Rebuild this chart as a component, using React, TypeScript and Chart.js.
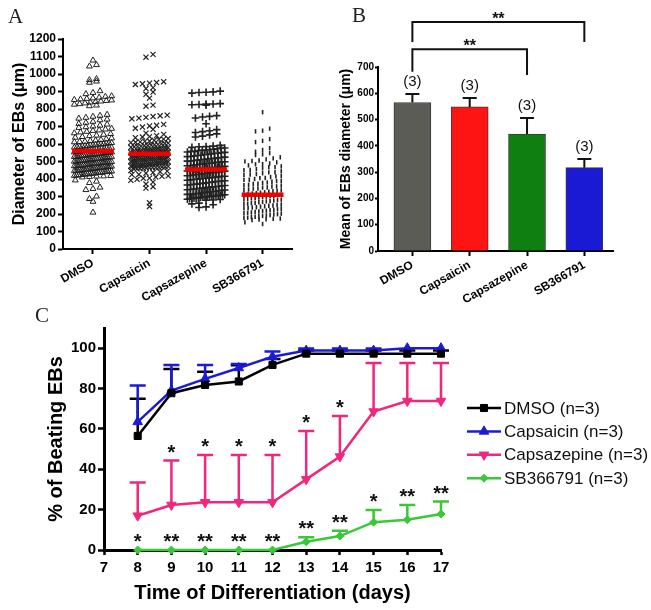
import { useEffect, useRef } from 'react';
import { Chart, registerables } from 'chart.js';
import { drawPoint } from 'chart.js/helpers';

Chart.register(...registerables);

const FONT = "'Liberation Sans', Arial, Helvetica, sans-serif";

// ---------- Panel A : individual EB diameters ----------
const groups = ['DMSO', 'Capsaicin', 'Capsazepine', 'SB366791'];
const diameterTicks = [0, 100, 200, 300, 400, 500, 600, 700, 800, 900, 1000, 1100, 1200];

const dmsoDiameters = [
  1078, 1052, 1044, 972, 966, 958, 951, 903, 893, 886,
  874, 871, 866, 862, 859, 856, 853, 850, 847, 844, 841, 838, 833, 829, 826, 821, 817,
  768, 762, 757, 751, 746, 741, 737,
  728, 722, 716, 712, 706, 701, 697, 693, 688, 684, 679, 676, 671, 667, 662, 658, 654, 649, 646, 641, 637, 633, 628,
  624, 621, 618, 614, 611, 607, 604, 601, 598, 596, 593, 590, 587, 584, 581, 578, 576, 573, 570, 567, 564, 562,
  559, 556, 553, 551, 548, 545, 542, 539, 537, 534, 531, 528, 525, 523, 520, 517, 514, 511, 508, 506, 503, 500,
  497, 494, 491, 489, 486, 483, 480, 477, 474, 471, 469, 466, 463, 460, 457, 454, 451, 448, 446, 443, 440, 437,
  434, 431, 428, 425, 422, 419, 416, 413, 410,
  415, 418, 421, 424, 427, 429, 433, 436, 439, 442, 444, 447, 450, 452, 455, 458, 461, 464, 467, 470, 472, 475,
  478, 481, 484, 487, 490, 493, 496, 498, 501, 504, 507, 510, 513, 516, 519, 522, 526, 529, 532, 535, 538, 541,
  544, 547, 550, 554, 557, 561, 565, 569, 574, 579, 583, 589, 594, 600, 606, 613, 452, 463, 476, 488, 495, 505,
  515, 527, 540, 552,
  393, 386, 378, 352, 344, 338, 301, 287, 271, 209,
];
const capsaicinDiameters = [
  1112, 1096, 956, 951, 948, 944, 940, 922, 917, 897, 884, 862, 822, 816,
  765, 761, 757, 752, 748, 744,
  712, 707, 703, 697, 690, 684, 662, 655, 648, 642, 636, 631, 627,
  621, 617, 612, 608, 605, 601, 598, 594, 591, 588, 585, 581, 578, 575, 572, 569, 566, 563, 560, 557, 554, 551,
  548, 545, 542, 539, 536, 533, 530, 527, 524, 521, 518, 515, 512, 509, 506, 503, 500, 497, 494, 491, 488, 485,
  482, 479, 476, 473, 470, 467, 464, 461, 458,
  457, 460, 463, 466, 469, 472, 474, 477, 480, 483, 486, 489, 492, 495, 498, 501, 504, 507, 510, 513, 516, 519,
  522, 525, 528, 531, 534, 537, 540, 543, 547, 550, 553, 556, 559, 562, 566, 570, 574, 579, 584, 590, 596, 603,
  610, 465, 478, 493, 508, 520, 535, 549, 565, 405, 415, 425, 437, 445, 615, 628, 640,
  448, 441, 433, 426, 418, 411, 404, 398, 392, 382, 371, 356, 348, 264, 243,
];
const capsazepineDiameters = [
  902, 898, 894, 891, 896, 831, 828, 824, 822, 826, 829, 762, 758, 754, 749, 716,
  682, 676, 671, 666, 658, 652, 645, 640,
  592, 588, 585, 581, 577, 573, 569, 566, 562, 558, 554, 551, 547, 543, 540, 536, 532, 528, 525, 521, 517, 514,
  510, 506, 502, 499, 495, 491, 487, 484, 480, 476, 472, 469, 465, 461, 457, 454, 450, 446, 442, 438, 435, 431,
  427, 423, 420, 416, 412, 408, 404, 401, 397, 393, 389, 386, 382, 378, 374, 371, 367, 363, 359, 355, 352, 348,
  344, 340, 337, 333, 329, 325, 322, 318, 314, 310, 306, 303, 299, 295, 291, 288, 284, 280,
  279, 283, 287, 292, 296, 300, 302, 305, 309, 313, 317, 321, 326, 330, 335, 339, 343, 347, 351, 356, 361, 366,
  370, 375, 380, 385, 390, 395, 399, 403, 407, 411, 415, 419, 424, 429, 433, 437, 441, 445, 449, 453, 458, 462,
  467, 471, 476, 480, 485, 489, 494, 498, 503, 508, 513, 518, 523, 529, 534, 540, 546, 552, 558, 564, 570, 577,
  584, 290, 298, 306, 312, 455, 460,
  262, 258, 253, 241, 237,
];
const sbDiameters = [
  782, 688, 676, 672, 628, 618, 611, 576, 566, 556, 548, 541, 537,
  524, 518, 512, 506, 501, 495, 489, 484, 478, 472, 467, 461, 456, 450, 444, 439, 433, 428, 422, 417, 411, 406,
  400, 395, 389, 384, 378, 373, 367, 362, 357, 351, 346, 340, 335, 330, 324, 319, 314, 309, 304, 299, 294, 289,
  284, 279, 274, 269, 264, 259, 254, 249, 244, 239, 234, 229, 224, 219, 214, 209, 204, 199, 194, 189, 184, 179,
  174, 170, 166,
  168, 172, 177, 182, 187, 192, 197, 202, 207, 212, 217, 222, 227, 232, 237, 242, 247, 252, 257, 262, 267, 272,
  277, 282, 287, 292, 297, 302, 307, 312, 317, 322, 328, 333, 339, 345, 352, 358, 365, 372, 380, 388, 396, 405,
  415, 426, 438, 452, 468, 485, 503,
  152, 143,
];
const groupMeans = [560, 545, 455, 310];

// ---------- Panel B : mean diameter ----------
const barMeans = [565, 548, 445, 317];
const barSem = [32, 34, 61, 33];
const barN = [3, 3, 3, 3];
const barColors = ['#5c5c56', '#ff1414', '#0f7f12', '#1a1ad4'];
const meanTicks = [0, 100, 200, 300, 400, 500, 600, 700];

// ---------- Panel C : % beating EBs ----------
const days = [8, 9, 10, 11, 12, 13, 14, 15, 16, 17];
const beatingTicks = [0, 20, 40, 60, 80, 100];
const seriesNames = ['DMSO (n=3)', 'Capsaicin (n=3)', 'Capsazepine (n=3)', 'SB366791 (n=3)'];
const dmsoBeating = [56.5, 77.7, 81.8, 83.5, 91.7, 97.3, 97.3, 97.3, 97.3, 97.3];
const dmsoBeatingSem = [18.5, 12, 6.5, 8, 3, 1.5, 1.5, 1.5, 1.5, 1.5];
const capsaicinBeating = [63.5, 79, 84.8, 90.2, 95.8, 98.8, 98.8, 98.8, 100, 100];
const capsaicinBeatingSem = [18, 12.7, 6.9, 2, 2.5, 1, 1, 1, 0, 0];
const capsazepineBeating = [17, 22.3, 23.6, 23.6, 23.6, 35, 46.3, 68.6, 73.8, 73.8];
const capsazepineBeatingSem = [16.4, 22, 23.5, 23.5, 23.5, 24, 20.1, 24, 18.8, 18.8];
const sbBeating = [0, 0, 0, 0, 0, 4.1, 6.9, 13.8, 15, 17.8];
const sbBeatingSem = [0, 0, 0, 0, 0, 2.2, 2.7, 6, 7.3, 6.2];
const sigCapsazepine = ['', '*', '*', '*', '*', '*', '*', '', '', ''];
const sigSB = ['*', '**', '**', '**', '**', '**', '**', '*', '**', '**'];

// ---------- helpers ----------
function swarm(values: number[], idx: number) {
  const bins = new Map<number, number[]>();
  [...values].sort((a, b) => a - b).forEach((v) => {
    const k = Math.round(v / 27);
    if (!bins.has(k)) bins.set(k, []);
    bins.get(k)!.push(v);
  });
  const pts: { x: number; y: number }[] = [];
  bins.forEach((arr) => {
    const n = arr.length;
    const d = n > 1 ? Math.min(0.125, 0.66 / (n - 1)) : 0;
    arr.forEach((v, k) => pts.push({ x: idx + (k - (n - 1) / 2) * d, y: v }));
  });
  return pts;
}

const axisGrid = (w: number, len: number) => ({
  display: true,
  drawOnChartArea: false,
  drawTicks: true,
  tickLength: len,
  tickColor: '#000',
  tickWidth: w,
});
const axisBorder = (w: number) => ({ display: true, color: '#000', width: w });
const bold = (size: number) => ({ family: FONT, size, weight: 'bold' as const });

function starText(ctx: CanvasRenderingContext2D, text: string, x: number, cy: number, size: number) {
  ctx.font = `bold ${size}px ${FONT}`;
  ctx.textAlign = 'center';
  ctx.textBaseline = 'alphabetic';
  ctx.fillStyle = '#111';
  ctx.fillText(text, x, cy + size * 0.56);
}

// ---------- Panel B extras ----------
const barExtras = {
  id: 'barExtras',
  afterDatasetsDraw(chart: any) {
    const ctx = chart.ctx as CanvasRenderingContext2D;
    const xs = chart.scales.x;
    const ys = chart.scales.y;
    ctx.save();
    ctx.strokeStyle = '#111';
    ctx.lineWidth = 2;
    barMeans.forEach((m, i) => {
      const x = xs.getPixelForValue(i);
      const y0 = ys.getPixelForValue(m);
      const y1 = ys.getPixelForValue(m + barSem[i]);
      ctx.beginPath();
      ctx.moveTo(x, y0);
      ctx.lineTo(x, y1);
      ctx.moveTo(x - 7, y1);
      ctx.lineTo(x + 7, y1);
      ctx.stroke();
      ctx.fillStyle = '#111';
      ctx.font = `15px ${FONT}`;
      ctx.textAlign = 'center';
      ctx.textBaseline = 'middle';
      ctx.fillText(`(${barN[i]})`, x, y1 - 12);
    });
    // significance brackets
    const brackets = [
      { a: 0, b: 3, top: 871, endA: 795, endB: 795 },
      { a: 0, b: 2, top: 768, endA: 682, endB: 670 },
    ];
    brackets.forEach((br) => {
      const xa = xs.getPixelForValue(br.a);
      const xb = xs.getPixelForValue(br.b);
      const yt = ys.getPixelForValue(br.top);
      ctx.beginPath();
      ctx.moveTo(xa, ys.getPixelForValue(br.endA));
      ctx.lineTo(xa, yt);
      ctx.lineTo(xb, yt);
      ctx.lineTo(xb, ys.getPixelForValue(br.endB));
      ctx.stroke();
      starText(ctx, '**', (xa + xb) / 2, yt - 7, 16);
    });
    ctx.restore();
  },
};

// ---------- Panel C extras ----------
const beatingSeries = [
  { name: seriesNames[0], values: dmsoBeating, sem: dmsoBeatingSem, color: '#000000', style: 'rect', rot: 0, r: 5 },
  { name: seriesNames[1], values: capsaicinBeating, sem: capsaicinBeatingSem, color: '#1b1bd6', style: 'triangle', rot: 0, r: 5.5 },
  { name: seriesNames[2], values: capsazepineBeating, sem: capsazepineBeatingSem, color: '#f0277c', style: 'triangle', rot: 180, r: 5.5 },
  { name: seriesNames[3], values: sbBeating, sem: sbBeatingSem, color: '#38c838', style: 'rectRot', rot: 0, r: 4 },
];

const beatingExtras = {
  id: 'beatingExtras',
  beforeDatasetsDraw(chart: any) {
    const ctx = chart.ctx as CanvasRenderingContext2D;
    const xs = chart.scales.x;
    const ys = chart.scales.y;
    ctx.save();
    ctx.lineWidth = 2.5;
    beatingSeries.forEach((s) => {
      ctx.strokeStyle = s.color;
      s.values.forEach((v, j) => {
        if (!s.sem[j]) return;
        const x = xs.getPixelForValue(days[j]);
        const y0 = ys.getPixelForValue(v);
        const y1 = ys.getPixelForValue(v + s.sem[j]);
        ctx.beginPath();
        ctx.moveTo(x, y0);
        ctx.lineTo(x, y1);
        ctx.moveTo(x - 8, y1);
        ctx.lineTo(x + 8, y1);
        ctx.stroke();
      });
    });
    ctx.restore();
  },
  afterDraw(chart: any) {
    const ctx = chart.ctx as CanvasRenderingContext2D;
    const xs = chart.scales.x;
    const ys = chart.scales.y;
    ctx.save();
    const marks = [
      { sig: sigCapsazepine, s: beatingSeries[2] },
      { sig: sigSB, s: beatingSeries[3] },
    ];
    marks.forEach(({ sig, s }) => {
      sig.forEach((t, j) => {
        if (!t) return;
        const x = xs.getPixelForValue(days[j]);
        const y = ys.getPixelForValue(s.values[j] + s.sem[j]) - 13;
        starText(ctx, t, x, y, 20);
      });
    });
    // legend
    beatingSeries.forEach((s, i) => {
      const y = 108 + i * 23.4;
      ctx.strokeStyle = s.color;
      ctx.fillStyle = s.color;
      ctx.lineWidth = 2.5;
      ctx.beginPath();
      ctx.moveTo(467, y);
      ctx.lineTo(501, y);
      ctx.stroke();
      ctx.lineWidth = 1;
      drawPoint(ctx, { pointStyle: s.style as any, rotation: s.rot, radius: s.r, borderWidth: 1 }, 484, y);
      ctx.fillStyle = '#111';
      ctx.font = `17px ${FONT}`;
      ctx.textAlign = 'left';
      ctx.textBaseline = 'middle';
      ctx.fillText(s.name, 504, y + 1);
    });
    ctx.restore();
  },
};

export default function App() {
  const aRef = useRef<HTMLCanvasElement>(null);
  const bRef = useRef<HTMLCanvasElement>(null);
  const cRef = useRef<HTMLCanvasElement>(null);

  useEffect(() => {
    const chartA = new Chart(aRef.current!, {
      type: 'scatter',
      data: {
        datasets: [
          ...groupMeans.map((m, i) => ({
            data: [
              { x: i - 0.37, y: m },
              { x: i + 0.37, y: m },
            ],
            showLine: true,
            borderColor: '#f20000',
            borderWidth: 4.5,
            pointRadius: 0,
            order: 0,
          })),
          {
            data: swarm(dmsoDiameters, 0),
            pointStyle: 'triangle',
            pointRadius: 3.4,
            borderColor: '#222',
            backgroundColor: 'rgba(0,0,0,0)',
            borderWidth: 1,
            order: 1,
          },
          {
            data: swarm(capsaicinDiameters, 1),
            pointStyle: 'crossRot',
            pointRadius: 3.6,
            borderColor: '#222',
            borderWidth: 1.2,
            order: 1,
          },
          {
            data: swarm(capsazepineDiameters, 2),
            pointStyle: 'cross',
            pointRadius: 3.8,
            borderColor: '#222',
            borderWidth: 1.6,
            order: 1,
          },
          {
            data: swarm(sbDiameters, 3),
            pointStyle: 'line',
            pointRotation: 90,
            pointRadius: 2.2,
            borderColor: '#222',
            borderWidth: 1.6,
            order: 1,
          },
        ] as any,
      },
      options: {
        responsive: false,
        animation: false,
        events: [],
        plugins: { legend: { display: false }, tooltip: { enabled: false } },
        layout: { padding: { left: 0, top: 39, right: 38, bottom: 0 } },
        scales: {
          x: {
            type: 'linear',
            min: -0.53,
            max: 3.52,
            afterBuildTicks: (s: any) => {
              s.ticks = groups.map((_, i) => ({ value: i }));
            },
            afterFit: (s: any) => {
              s.height = 66;
            },
            ticks: {
              callback: (v: any) => groups[v] ?? '',
              minRotation: 30,
              maxRotation: 30,
              autoSkip: false,
              color: '#000',
              font: bold(12),
              padding: 2,
            },
            grid: axisGrid(2, 5),
            border: axisBorder(2),
          },
          y: {
            min: 0,
            max: 1200,
            afterBuildTicks: (s: any) => {
              s.ticks = diameterTicks.map((v) => ({ value: v }));
            },
            afterFit: (s: any) => {
              s.width = 63;
            },
            ticks: { color: '#000', font: bold(12), padding: 2, callback: (v: any) => String(v) },
            grid: axisGrid(2, 5),
            border: axisBorder(2),
            title: {
              display: true,
              text: 'Diameter of EBs (μm)',
              color: '#000',
              font: bold(16),
              padding: { top: 10, bottom: 0 },
            },
          },
        },
      } as any,
    });

    const chartB = new Chart(bRef.current!, {
      type: 'bar',
      data: {
        datasets: [
          {
            data: barMeans.map((v, i) => ({ x: i, y: v })),
            backgroundColor: barColors,
            borderColor: '#3a3a3a',
            borderWidth: 1,
            barThickness: 37,
          },
        ] as any,
      },
      options: {
        responsive: false,
        animation: false,
        events: [],
        plugins: { legend: { display: false }, tooltip: { enabled: false } },
        layout: { padding: { left: 0, top: 67, right: 38, bottom: 0 } },
        scales: {
          x: {
            type: 'linear',
            min: -0.6,
            max: 3.5,
            offset: false,
            afterBuildTicks: (s: any) => {
              s.ticks = groups.map((_, i) => ({ value: i }));
            },
            afterFit: (s: any) => {
              s.height = 64;
            },
            ticks: {
              callback: (v: any) => groups[v] ?? '',
              minRotation: 30,
              maxRotation: 30,
              autoSkip: false,
              color: '#000',
              font: bold(12),
              padding: 2,
            },
            grid: { ...axisGrid(2, 5), offset: false },
            border: axisBorder(2),
          },
          y: {
            min: 0,
            max: 700,
            afterBuildTicks: (s: any) => {
              s.ticks = meanTicks.map((v) => ({ value: v }));
            },
            afterFit: (s: any) => {
              s.width = 48;
            },
            ticks: { color: '#000', font: bold(10), padding: 1, callback: (v: any) => String(v) },
            grid: axisGrid(2, 3),
            border: axisBorder(2),
            title: {
              display: true,
              text: 'Mean of EBs diameter (μm)',
              color: '#000',
              font: bold(14),
              padding: { top: 8, bottom: 0 },
            },
          },
        },
      } as any,
      plugins: [barExtras],
    });

    const chartC = new Chart(cRef.current!, {
      type: 'line',
      data: {
        datasets: beatingSeries.map((s) => ({
          label: s.name,
          data: s.values.map((v, j) => ({ x: days[j], y: v })),
          borderColor: s.color,
          backgroundColor: s.color,
          borderWidth: 2.5,
          pointStyle: s.style,
          pointRotation: s.rot,
          pointRadius: s.r,
          pointBorderWidth: 1,
          tension: 0,
          clip: false,
        })) as any,
      },
      options: {
        responsive: false,
        animation: false,
        events: [],
        plugins: { legend: { display: false }, tooltip: { enabled: false } },
        layout: { padding: { left: 0, top: 28, right: 210, bottom: 0 } },
        scales: {
          x: {
            type: 'linear',
            min: 7,
            max: 17,
            afterFit: (s: any) => {
              s.height = 60;
            },
            ticks: { stepSize: 1, color: '#000', font: bold(15), padding: 4 },
            grid: axisGrid(2.5, 5),
            border: axisBorder(3),
            title: {
              display: true,
              text: 'Time of Differentiation (days)',
              color: '#000',
              font: bold(20),
              padding: { top: 0, bottom: 5 },
            },
          },
          y: {
            min: 0,
            max: 110,
            afterBuildTicks: (s: any) => {
              s.ticks = beatingTicks.map((v) => ({ value: v }));
            },
            afterFit: (s: any) => {
              s.width = 104;
            },
            ticks: { color: '#000', font: bold(15), padding: 2 },
            grid: axisGrid(2.5, 6),
            border: axisBorder(3),
            title: {
              display: true,
              text: '% of Beating EBs',
              color: '#000',
              font: bold(20),
              padding: { top: 44, bottom: 0 },
            },
          },
        },
      } as any,
      plugins: [beatingExtras],
    });

    return () => {
      chartA.destroy();
      chartB.destroy();
      chartC.destroy();
    };
  }, []);

  const letter = { position: 'absolute' as const, fontFamily: "'Liberation Serif', 'Times New Roman', serif", fontSize: 21, lineHeight: '21px', color: '#222' };

  return (
    <div style={{ position: 'fixed', left: 0, top: 0, width: 651, height: 610, background: '#fff', overflow: 'hidden' }}>
      <canvas ref={cRef} width={651} height={310} style={{ position: 'absolute', left: 0, top: 300, width: 651, height: 310 }} />
      <canvas ref={aRef} width={330} height={315} style={{ position: 'absolute', left: 0, top: 0, width: 330, height: 315 }} />
      <canvas ref={bRef} width={321} height={315} style={{ position: 'absolute', left: 330, top: 0, width: 321, height: 315 }} />
      <span style={{ ...letter, left: 8, top: 6 }}>A</span>
      <span style={{ ...letter, left: 352, top: 5 }}>B</span>
      <span style={{ ...letter, left: 35, top: 305 }}>C</span>
    </div>
  );
}
